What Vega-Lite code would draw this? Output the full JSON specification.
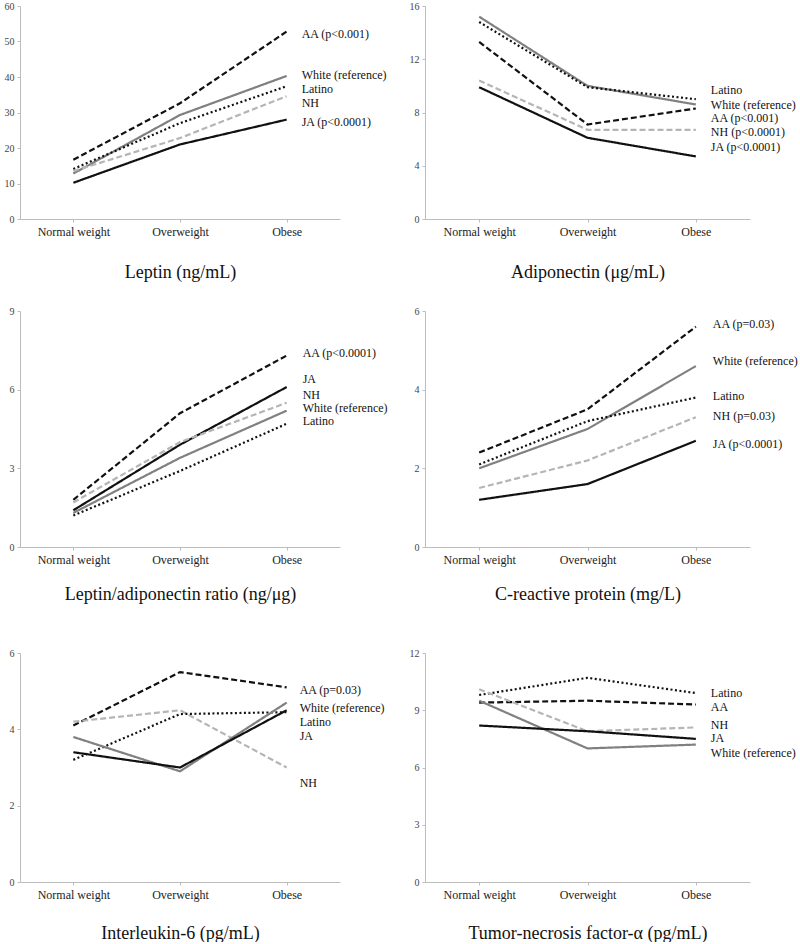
{
  "$schema": "https://vega.github.io/schema/vega-lite/v6.json",
  "padding": {"left": 4, "top": 1, "right": 0, "bottom": 0},
  "background": "white",
  "config": {
    "font": "Liberation Serif",
    "view": {"stroke": null},
    "axis": {"grid": false, "domainColor": "#bdbdbd", "tickColor": "#bdbdbd", "tickSize": 3, "labelFont": "Liberation Serif", "titleFont": "Liberation Serif"},
    "axisX": {"labelFontSize": 12, "labelColor": "#222", "labelAngle": 0, "labelPadding": 4, "titleFontSize": 18, "titleFontWeight": "normal", "titleColor": "#111"},
    "axisY": {"labelFontSize": 10, "labelColor": "#444", "labelPadding": 3, "title": null, "labelOverlap": false},
    "text": {"font": "Liberation Serif", "fontSize": 12, "color": "#111"}
  },
  "datasets": {
    "d": [
      {"panel": "Leptin", "group": "AA", "weight": "Normal weight", "value": 16.7},
      {"panel": "Leptin", "group": "AA", "weight": "Overweight", "value": 32.6},
      {"panel": "Leptin", "group": "AA", "weight": "Obese", "value": 52.8},
      {"panel": "Leptin", "group": "White", "weight": "Normal weight", "value": 12.8},
      {"panel": "Leptin", "group": "White", "weight": "Overweight", "value": 29.3},
      {"panel": "Leptin", "group": "White", "weight": "Obese", "value": 40.3},
      {"panel": "Leptin", "group": "Latino", "weight": "Normal weight", "value": 14.1},
      {"panel": "Leptin", "group": "Latino", "weight": "Overweight", "value": 27.0},
      {"panel": "Leptin", "group": "Latino", "weight": "Obese", "value": 37.4},
      {"panel": "Leptin", "group": "NH", "weight": "Normal weight", "value": 13.5},
      {"panel": "Leptin", "group": "NH", "weight": "Overweight", "value": 22.8},
      {"panel": "Leptin", "group": "NH", "weight": "Obese", "value": 34.6},
      {"panel": "Leptin", "group": "JA", "weight": "Normal weight", "value": 10.2},
      {"panel": "Leptin", "group": "JA", "weight": "Overweight", "value": 21.0},
      {"panel": "Leptin", "group": "JA", "weight": "Obese", "value": 28.0},

      {"panel": "Adiponectin", "group": "White", "weight": "Normal weight", "value": 15.2},
      {"panel": "Adiponectin", "group": "White", "weight": "Overweight", "value": 10.0},
      {"panel": "Adiponectin", "group": "White", "weight": "Obese", "value": 8.6},
      {"panel": "Adiponectin", "group": "Latino", "weight": "Normal weight", "value": 14.8},
      {"panel": "Adiponectin", "group": "Latino", "weight": "Overweight", "value": 9.9},
      {"panel": "Adiponectin", "group": "Latino", "weight": "Obese", "value": 9.0},
      {"panel": "Adiponectin", "group": "AA", "weight": "Normal weight", "value": 13.3},
      {"panel": "Adiponectin", "group": "AA", "weight": "Overweight", "value": 7.1},
      {"panel": "Adiponectin", "group": "AA", "weight": "Obese", "value": 8.3},
      {"panel": "Adiponectin", "group": "NH", "weight": "Normal weight", "value": 10.4},
      {"panel": "Adiponectin", "group": "NH", "weight": "Overweight", "value": 6.7},
      {"panel": "Adiponectin", "group": "NH", "weight": "Obese", "value": 6.7},
      {"panel": "Adiponectin", "group": "JA", "weight": "Normal weight", "value": 9.9},
      {"panel": "Adiponectin", "group": "JA", "weight": "Overweight", "value": 6.1},
      {"panel": "Adiponectin", "group": "JA", "weight": "Obese", "value": 4.7},

      {"panel": "Ratio", "group": "AA", "weight": "Normal weight", "value": 1.8},
      {"panel": "Ratio", "group": "AA", "weight": "Overweight", "value": 5.1},
      {"panel": "Ratio", "group": "AA", "weight": "Obese", "value": 7.3},
      {"panel": "Ratio", "group": "JA", "weight": "Normal weight", "value": 1.4},
      {"panel": "Ratio", "group": "JA", "weight": "Overweight", "value": 3.9},
      {"panel": "Ratio", "group": "JA", "weight": "Obese", "value": 6.1},
      {"panel": "Ratio", "group": "NH", "weight": "Normal weight", "value": 1.7},
      {"panel": "Ratio", "group": "NH", "weight": "Overweight", "value": 4.0},
      {"panel": "Ratio", "group": "NH", "weight": "Obese", "value": 5.5},
      {"panel": "Ratio", "group": "White", "weight": "Normal weight", "value": 1.3},
      {"panel": "Ratio", "group": "White", "weight": "Overweight", "value": 3.4},
      {"panel": "Ratio", "group": "White", "weight": "Obese", "value": 5.2},
      {"panel": "Ratio", "group": "Latino", "weight": "Normal weight", "value": 1.2},
      {"panel": "Ratio", "group": "Latino", "weight": "Overweight", "value": 2.9},
      {"panel": "Ratio", "group": "Latino", "weight": "Obese", "value": 4.7},

      {"panel": "CRP", "group": "AA", "weight": "Normal weight", "value": 2.4},
      {"panel": "CRP", "group": "AA", "weight": "Overweight", "value": 3.5},
      {"panel": "CRP", "group": "AA", "weight": "Obese", "value": 5.6},
      {"panel": "CRP", "group": "White", "weight": "Normal weight", "value": 2.0},
      {"panel": "CRP", "group": "White", "weight": "Overweight", "value": 3.0},
      {"panel": "CRP", "group": "White", "weight": "Obese", "value": 4.6},
      {"panel": "CRP", "group": "Latino", "weight": "Normal weight", "value": 2.1},
      {"panel": "CRP", "group": "Latino", "weight": "Overweight", "value": 3.2},
      {"panel": "CRP", "group": "Latino", "weight": "Obese", "value": 3.8},
      {"panel": "CRP", "group": "NH", "weight": "Normal weight", "value": 1.5},
      {"panel": "CRP", "group": "NH", "weight": "Overweight", "value": 2.2},
      {"panel": "CRP", "group": "NH", "weight": "Obese", "value": 3.3},
      {"panel": "CRP", "group": "JA", "weight": "Normal weight", "value": 1.2},
      {"panel": "CRP", "group": "JA", "weight": "Overweight", "value": 1.6},
      {"panel": "CRP", "group": "JA", "weight": "Obese", "value": 2.7},

      {"panel": "IL6", "group": "AA", "weight": "Normal weight", "value": 4.1},
      {"panel": "IL6", "group": "AA", "weight": "Overweight", "value": 5.5},
      {"panel": "IL6", "group": "AA", "weight": "Obese", "value": 5.1},
      {"panel": "IL6", "group": "NH", "weight": "Normal weight", "value": 4.2},
      {"panel": "IL6", "group": "NH", "weight": "Overweight", "value": 4.5},
      {"panel": "IL6", "group": "NH", "weight": "Obese", "value": 3.0},
      {"panel": "IL6", "group": "Latino", "weight": "Normal weight", "value": 3.2},
      {"panel": "IL6", "group": "Latino", "weight": "Overweight", "value": 4.4},
      {"panel": "IL6", "group": "Latino", "weight": "Obese", "value": 4.45},
      {"panel": "IL6", "group": "White", "weight": "Normal weight", "value": 3.8},
      {"panel": "IL6", "group": "White", "weight": "Overweight", "value": 2.9},
      {"panel": "IL6", "group": "White", "weight": "Obese", "value": 4.7},
      {"panel": "IL6", "group": "JA", "weight": "Normal weight", "value": 3.4},
      {"panel": "IL6", "group": "JA", "weight": "Overweight", "value": 3.0},
      {"panel": "IL6", "group": "JA", "weight": "Obese", "value": 4.5},

      {"panel": "TNF", "group": "Latino", "weight": "Normal weight", "value": 9.8},
      {"panel": "TNF", "group": "Latino", "weight": "Overweight", "value": 10.7},
      {"panel": "TNF", "group": "Latino", "weight": "Obese", "value": 9.9},
      {"panel": "TNF", "group": "AA", "weight": "Normal weight", "value": 9.4},
      {"panel": "TNF", "group": "AA", "weight": "Overweight", "value": 9.5},
      {"panel": "TNF", "group": "AA", "weight": "Obese", "value": 9.3},
      {"panel": "TNF", "group": "NH", "weight": "Normal weight", "value": 10.1},
      {"panel": "TNF", "group": "NH", "weight": "Overweight", "value": 7.9},
      {"panel": "TNF", "group": "NH", "weight": "Obese", "value": 8.1},
      {"panel": "TNF", "group": "White", "weight": "Normal weight", "value": 9.5},
      {"panel": "TNF", "group": "White", "weight": "Overweight", "value": 7.0},
      {"panel": "TNF", "group": "White", "weight": "Obese", "value": 7.2},
      {"panel": "TNF", "group": "JA", "weight": "Normal weight", "value": 8.2},
      {"panel": "TNF", "group": "JA", "weight": "Overweight", "value": 7.9},
      {"panel": "TNF", "group": "JA", "weight": "Obese", "value": 7.5}
    ],
    "lab": [
      {"panel": "Leptin", "label": "AA (p<0.001)", "labelY": 52.1},
      {"panel": "Leptin", "label": "White (reference)", "labelY": 40.5},
      {"panel": "Leptin", "label": "Latino", "labelY": 36.6},
      {"panel": "Leptin", "label": "NH", "labelY": 32.7},
      {"panel": "Leptin", "label": "JA (p<0.0001)", "labelY": 27.4},
      {"panel": "Adiponectin", "label": "Latino", "labelY": 9.7},
      {"panel": "Adiponectin", "label": "White (reference)", "labelY": 8.6},
      {"panel": "Adiponectin", "label": "AA (p<0.001)", "labelY": 7.6},
      {"panel": "Adiponectin", "label": "NH (p<0.0001)", "labelY": 6.5},
      {"panel": "Adiponectin", "label": "JA (p<0.0001)", "labelY": 5.4},
      {"panel": "Ratio", "label": "AA (p<0.0001)", "labelY": 7.4},
      {"panel": "Ratio", "label": "JA", "labelY": 6.4},
      {"panel": "Ratio", "label": "NH", "labelY": 5.8},
      {"panel": "Ratio", "label": "White (reference)", "labelY": 5.3},
      {"panel": "Ratio", "label": "Latino", "labelY": 4.8},
      {"panel": "CRP", "label": "AA (p=0.03)", "labelY": 5.67},
      {"panel": "CRP", "label": "White (reference)", "labelY": 4.72},
      {"panel": "CRP", "label": "Latino", "labelY": 3.85},
      {"panel": "CRP", "label": "NH (p=0.03)", "labelY": 3.34},
      {"panel": "CRP", "label": "JA (p<0.0001)", "labelY": 2.62},
      {"panel": "IL6", "label": "AA (p=0.03)", "labelY": 5.02},
      {"panel": "IL6", "label": "White (reference)", "labelY": 4.55},
      {"panel": "IL6", "label": "Latino", "labelY": 4.18},
      {"panel": "IL6", "label": "JA", "labelY": 3.82},
      {"panel": "IL6", "label": "NH", "labelY": 2.6},
      {"panel": "TNF", "label": "Latino", "labelY": 9.9},
      {"panel": "TNF", "label": "AA", "labelY": 9.17},
      {"panel": "TNF", "label": "NH", "labelY": 8.23},
      {"panel": "TNF", "label": "JA", "labelY": 7.57},
      {"panel": "TNF", "label": "White (reference)", "labelY": 6.78}
    ]
  },
  "spacing": 25,
  "vconcat": [
    {
      "hconcat": [
        {
          "width": 320, "height": 213,
          "layer": [
            {"data": {"name": "d"}, "transform": [{"filter": "datum.panel === 'Leptin'"}],
             "mark": {"type": "line", "strokeWidth": 2.2},
             "encoding": {
               "x": {"field": "weight", "type": "nominal", "scale": {"type": "point", "padding": 0.5, "domain": ["Normal weight", "Overweight", "Obese"]}, "axis": {"title": "Leptin (ng/mL)", "titlePadding": 26}},
               "y": {"field": "value", "type": "quantitative", "scale": {"domain": [0, 60]}, "axis": {"values": [0, 10, 20, 30, 40, 50, 60], "labelOverlap": false, "tickCount": 7}},
               "color": {"field": "group", "type": "nominal", "scale": {"domain": ["AA", "White", "Latino", "NH", "JA"], "range": ["#111111", "#808080", "#111111", "#b5b5b5", "#111111"]}, "legend": null},
               "strokeDash": {"field": "group", "type": "nominal", "scale": {"domain": ["AA", "White", "Latino", "NH", "JA"], "range": [[6, 3], [1, 0], [2, 2.5], [6, 3], [1, 0]]}, "legend": null}
             }},
            {"data": {"name": "lab"}, "transform": [{"filter": "datum.panel === 'Leptin'"}],
             "mark": {"type": "text", "align": "left", "baseline": "middle", "dx": 15},
             "encoding": {"x": {"datum": "Obese", "type": "nominal"}, "y": {"field": "labelY", "type": "quantitative"}, "text": {"field": "label"}}}
          ]
        },
        {
          "width": 325, "height": 213,
          "layer": [
            {"data": {"name": "d"}, "transform": [{"filter": "datum.panel === 'Adiponectin'"}],
             "mark": {"type": "line", "strokeWidth": 2.2},
             "encoding": {
               "x": {"field": "weight", "type": "nominal", "scale": {"type": "point", "padding": 0.5, "domain": ["Normal weight", "Overweight", "Obese"]}, "axis": {"title": "Adiponectin (μg/mL)", "titlePadding": 26}},
               "y": {"field": "value", "type": "quantitative", "scale": {"domain": [0, 16]}, "axis": {"values": [0, 4, 8, 12, 16], "labelOverlap": false}},
               "color": {"field": "group", "type": "nominal", "scale": {"domain": ["AA", "White", "Latino", "NH", "JA"], "range": ["#111111", "#808080", "#111111", "#b5b5b5", "#111111"]}, "legend": null},
               "strokeDash": {"field": "group", "type": "nominal", "scale": {"domain": ["AA", "White", "Latino", "NH", "JA"], "range": [[6, 3], [1, 0], [2, 2.5], [6, 3], [1, 0]]}, "legend": null}
             }},
            {"data": {"name": "lab"}, "transform": [{"filter": "datum.panel === 'Adiponectin'"}],
             "mark": {"type": "text", "align": "left", "baseline": "middle", "dx": 15},
             "encoding": {"x": {"datum": "Obese", "type": "nominal"}, "y": {"field": "labelY", "type": "quantitative"}, "text": {"field": "label"}}}
          ]
        }
      ],
      "spacing": 85,
      "bounds": "flush"
    },
    {
      "vconcat": [
        {
          "hconcat": [
            {
              "width": 320, "height": 236,
              "layer": [
                {"data": {"name": "d"}, "transform": [{"filter": "datum.panel === 'Ratio'"}],
                 "mark": {"type": "line", "strokeWidth": 2.2},
                 "encoding": {
                   "x": {"field": "weight", "type": "nominal", "scale": {"type": "point", "padding": 0.5, "domain": ["Normal weight", "Overweight", "Obese"]}, "axis": {"title": "Leptin/adiponectin ratio (ng/μg)", "titlePadding": 20}},
                   "y": {"field": "value", "type": "quantitative", "scale": {"domain": [0, 9]}, "axis": {"values": [0, 3, 6, 9], "labelOverlap": false}},
                   "color": {"field": "group", "type": "nominal", "scale": {"domain": ["AA", "White", "Latino", "NH", "JA"], "range": ["#111111", "#808080", "#111111", "#b5b5b5", "#111111"]}, "legend": null},
                   "strokeDash": {"field": "group", "type": "nominal", "scale": {"domain": ["AA", "White", "Latino", "NH", "JA"], "range": [[6, 3], [1, 0], [2, 2.5], [6, 3], [1, 0]]}, "legend": null}
                 }},
                {"data": {"name": "lab"}, "transform": [{"filter": "datum.panel === 'Ratio'"}],
                 "mark": {"type": "text", "align": "left", "baseline": "middle", "dx": 16},
                 "encoding": {"x": {"datum": "Obese", "type": "nominal"}, "y": {"field": "labelY", "type": "quantitative"}, "text": {"field": "label"}}}
              ]
            },
            {
              "width": 325, "height": 236,
              "layer": [
                {"data": {"name": "d"}, "transform": [{"filter": "datum.panel === 'CRP'"}],
                 "mark": {"type": "line", "strokeWidth": 2.2},
                 "encoding": {
                   "x": {"field": "weight", "type": "nominal", "scale": {"type": "point", "padding": 0.5, "domain": ["Normal weight", "Overweight", "Obese"]}, "axis": {"title": "C-reactive protein (mg/L)", "titlePadding": 20}},
                   "y": {"field": "value", "type": "quantitative", "scale": {"domain": [0, 6]}, "axis": {"values": [0, 2, 4, 6], "labelOverlap": false}},
                   "color": {"field": "group", "type": "nominal", "scale": {"domain": ["AA", "White", "Latino", "NH", "JA"], "range": ["#111111", "#808080", "#111111", "#b5b5b5", "#111111"]}, "legend": null},
                   "strokeDash": {"field": "group", "type": "nominal", "scale": {"domain": ["AA", "White", "Latino", "NH", "JA"], "range": [[6, 3], [1, 0], [2, 2.5], [6, 3], [1, 0]]}, "legend": null}
                 }},
                {"data": {"name": "lab"}, "transform": [{"filter": "datum.panel === 'CRP'"}],
                 "mark": {"type": "text", "align": "left", "baseline": "middle", "dx": 17},
                 "encoding": {"x": {"datum": "Obese", "type": "nominal"}, "y": {"field": "labelY", "type": "quantitative"}, "text": {"field": "label"}}}
              ]
            }
          ],
          "spacing": 85,
          "bounds": "flush"
        },
        {
          "hconcat": [
            {
              "width": 320, "height": 229,
              "layer": [
                {"data": {"name": "d"}, "transform": [{"filter": "datum.panel === 'IL6'"}],
                 "mark": {"type": "line", "strokeWidth": 2.2},
                 "encoding": {
                   "x": {"field": "weight", "type": "nominal", "scale": {"type": "point", "padding": 0.5, "domain": ["Normal weight", "Overweight", "Obese"]}, "axis": {"title": "Interleukin-6 (pg/mL)", "titlePadding": 24}},
                   "y": {"field": "value", "type": "quantitative", "scale": {"domain": [0, 6]}, "axis": {"values": [0, 2, 4, 6], "labelOverlap": false}},
                   "color": {"field": "group", "type": "nominal", "scale": {"domain": ["AA", "White", "Latino", "NH", "JA"], "range": ["#111111", "#808080", "#111111", "#b5b5b5", "#111111"]}, "legend": null},
                   "strokeDash": {"field": "group", "type": "nominal", "scale": {"domain": ["AA", "White", "Latino", "NH", "JA"], "range": [[6, 3], [1, 0], [2, 2.5], [6, 3], [1, 0]]}, "legend": null}
                 }},
                {"data": {"name": "lab"}, "transform": [{"filter": "datum.panel === 'IL6'"}],
                 "mark": {"type": "text", "align": "left", "baseline": "middle", "dx": 13},
                 "encoding": {"x": {"datum": "Obese", "type": "nominal"}, "y": {"field": "labelY", "type": "quantitative"}, "text": {"field": "label"}}}
              ]
            },
            {
              "width": 325, "height": 229,
              "layer": [
                {"data": {"name": "d"}, "transform": [{"filter": "datum.panel === 'TNF'"}],
                 "mark": {"type": "line", "strokeWidth": 2.2},
                 "encoding": {
                   "x": {"field": "weight", "type": "nominal", "scale": {"type": "point", "padding": 0.5, "domain": ["Normal weight", "Overweight", "Obese"]}, "axis": {"title": "Tumor-necrosis factor-α (pg/mL)", "titlePadding": 24}},
                   "y": {"field": "value", "type": "quantitative", "scale": {"domain": [0, 12]}, "axis": {"values": [0, 3, 6, 9, 12], "labelOverlap": false}},
                   "color": {"field": "group", "type": "nominal", "scale": {"domain": ["AA", "White", "Latino", "NH", "JA"], "range": ["#111111", "#808080", "#111111", "#b5b5b5", "#111111"]}, "legend": null},
                   "strokeDash": {"field": "group", "type": "nominal", "scale": {"domain": ["AA", "White", "Latino", "NH", "JA"], "range": [[6, 3], [1, 0], [2, 2.5], [6, 3], [1, 0]]}, "legend": null}
                 }},
                {"data": {"name": "lab"}, "transform": [{"filter": "datum.panel === 'TNF'"}],
                 "mark": {"type": "text", "align": "left", "baseline": "middle", "dx": 15},
                 "encoding": {"x": {"datum": "Obese", "type": "nominal"}, "y": {"field": "labelY", "type": "quantitative"}, "text": {"field": "label"}}}
              ]
            }
          ],
          "spacing": 85,
          "bounds": "flush"
        }
      ],
      "spacing": 45
    }
  ]
}
